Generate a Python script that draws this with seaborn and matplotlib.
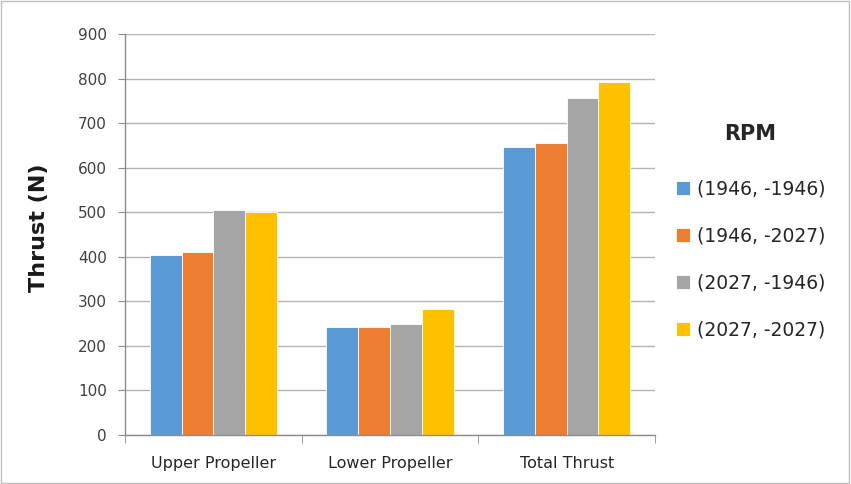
import matplotlib
matplotlib.use("Agg")
import matplotlib.pyplot as plt
import pandas as pd
import seaborn as sns
from matplotlib.patches import Rectangle

# values
categories = ["Upper Propeller", "Lower Propeller", "Total Thrust"]
rpm_labels = ["(1946, -1946)", "(1946, -2027)", "(2027, -1946)", "(2027, -2027)"]
thrust_1946_1946 = [403, 242, 647]
thrust_1946_2027 = [411, 242, 656]
thrust_2027_1946 = [505, 249, 757]
thrust_2027_2027 = [501, 283, 792]
yticks = [0, 100, 200, 300, 400, 500, 600, 700, 800, 900]
colors = ["#5B9BD5", "#ED7D31", "#A5A5A5", "#FFC000"]

series = [thrust_1946_1946, thrust_1946_2027, thrust_2027_1946, thrust_2027_2027]
rows = []
for label, vals in zip(rpm_labels, series):
    for cat, v in zip(categories, vals):
        rows.append({"Part": cat, "RPM": label, "Thrust": v})
df = pd.DataFrame(rows)

sns.set_style("white")
plt.rcParams["font.family"] = ["DejaVu Sans"]

fig = plt.figure(figsize=(8.51, 4.84), dpi=100)
ax = fig.add_axes([125 / 851, 1 - 435 / 484, 530 / 851, 401 / 484])

sns.barplot(
    data=df, x="Part", y="Thrust", hue="RPM", order=categories,
    hue_order=rpm_labels, palette=colors, saturation=1, width=0.72,
    edgecolor="white", linewidth=0.6, ax=ax, legend=True,
)

ax.set_ylim(0, 900)
ax.set_xlim(-0.5, 2.5)
ax.set_yticks(yticks)
ax.yaxis.grid(True, color="#B3B3B3", linewidth=1)
ax.set_axisbelow(True)

for side in ["top", "right"]:
    ax.spines[side].set_visible(False)
for side in ["left", "bottom"]:
    ax.spines[side].set_color("#8C8C8C")
    ax.spines[side].set_linewidth(1)

ax.tick_params(axis="y", direction="out", length=5, color="#8C8C8C",
               labelsize=11, labelcolor="#404040", pad=8, left=True)
ax.tick_params(axis="x", which="major", length=0, labelsize=11.5,
               labelcolor="#262626", pad=15)
ax.set_xticks([-0.5, 0.5, 1.5, 2.5], minor=True)
ax.tick_params(axis="x", which="minor", direction="out", length=6,
               color="#8C8C8C", bottom=True)

ax.set_xlabel("")
ax.set_ylabel("Thrust (N)", fontsize=16, fontweight="bold", color="#1a1a1a")
ax.yaxis.set_label_coords(-0.143, 0.516)

handles, labels = ax.get_legend_handles_labels()
ax.legend_.remove()
leg = fig.legend(
    handles, labels, title="RPM", loc="upper left",
    bbox_to_anchor=(668 / 851, 1 - 117 / 484), frameon=False,
    fontsize=13.5, title_fontproperties={"weight": "bold", "size": 15},
    handlelength=0.75, handleheight=0.75, handletextpad=0.4,
    labelspacing=1.5, borderaxespad=0,
)
leg._legend_box.sep = 25
for t in leg.get_texts():
    t.set_color("#262626")

fig.patches.append(Rectangle((0.001, 0.003), 0.997, 0.994, transform=fig.transFigure,
                             fill=False, edgecolor="#BFBFBF", linewidth=1))

fig.savefig("out.png", dpi=100)
